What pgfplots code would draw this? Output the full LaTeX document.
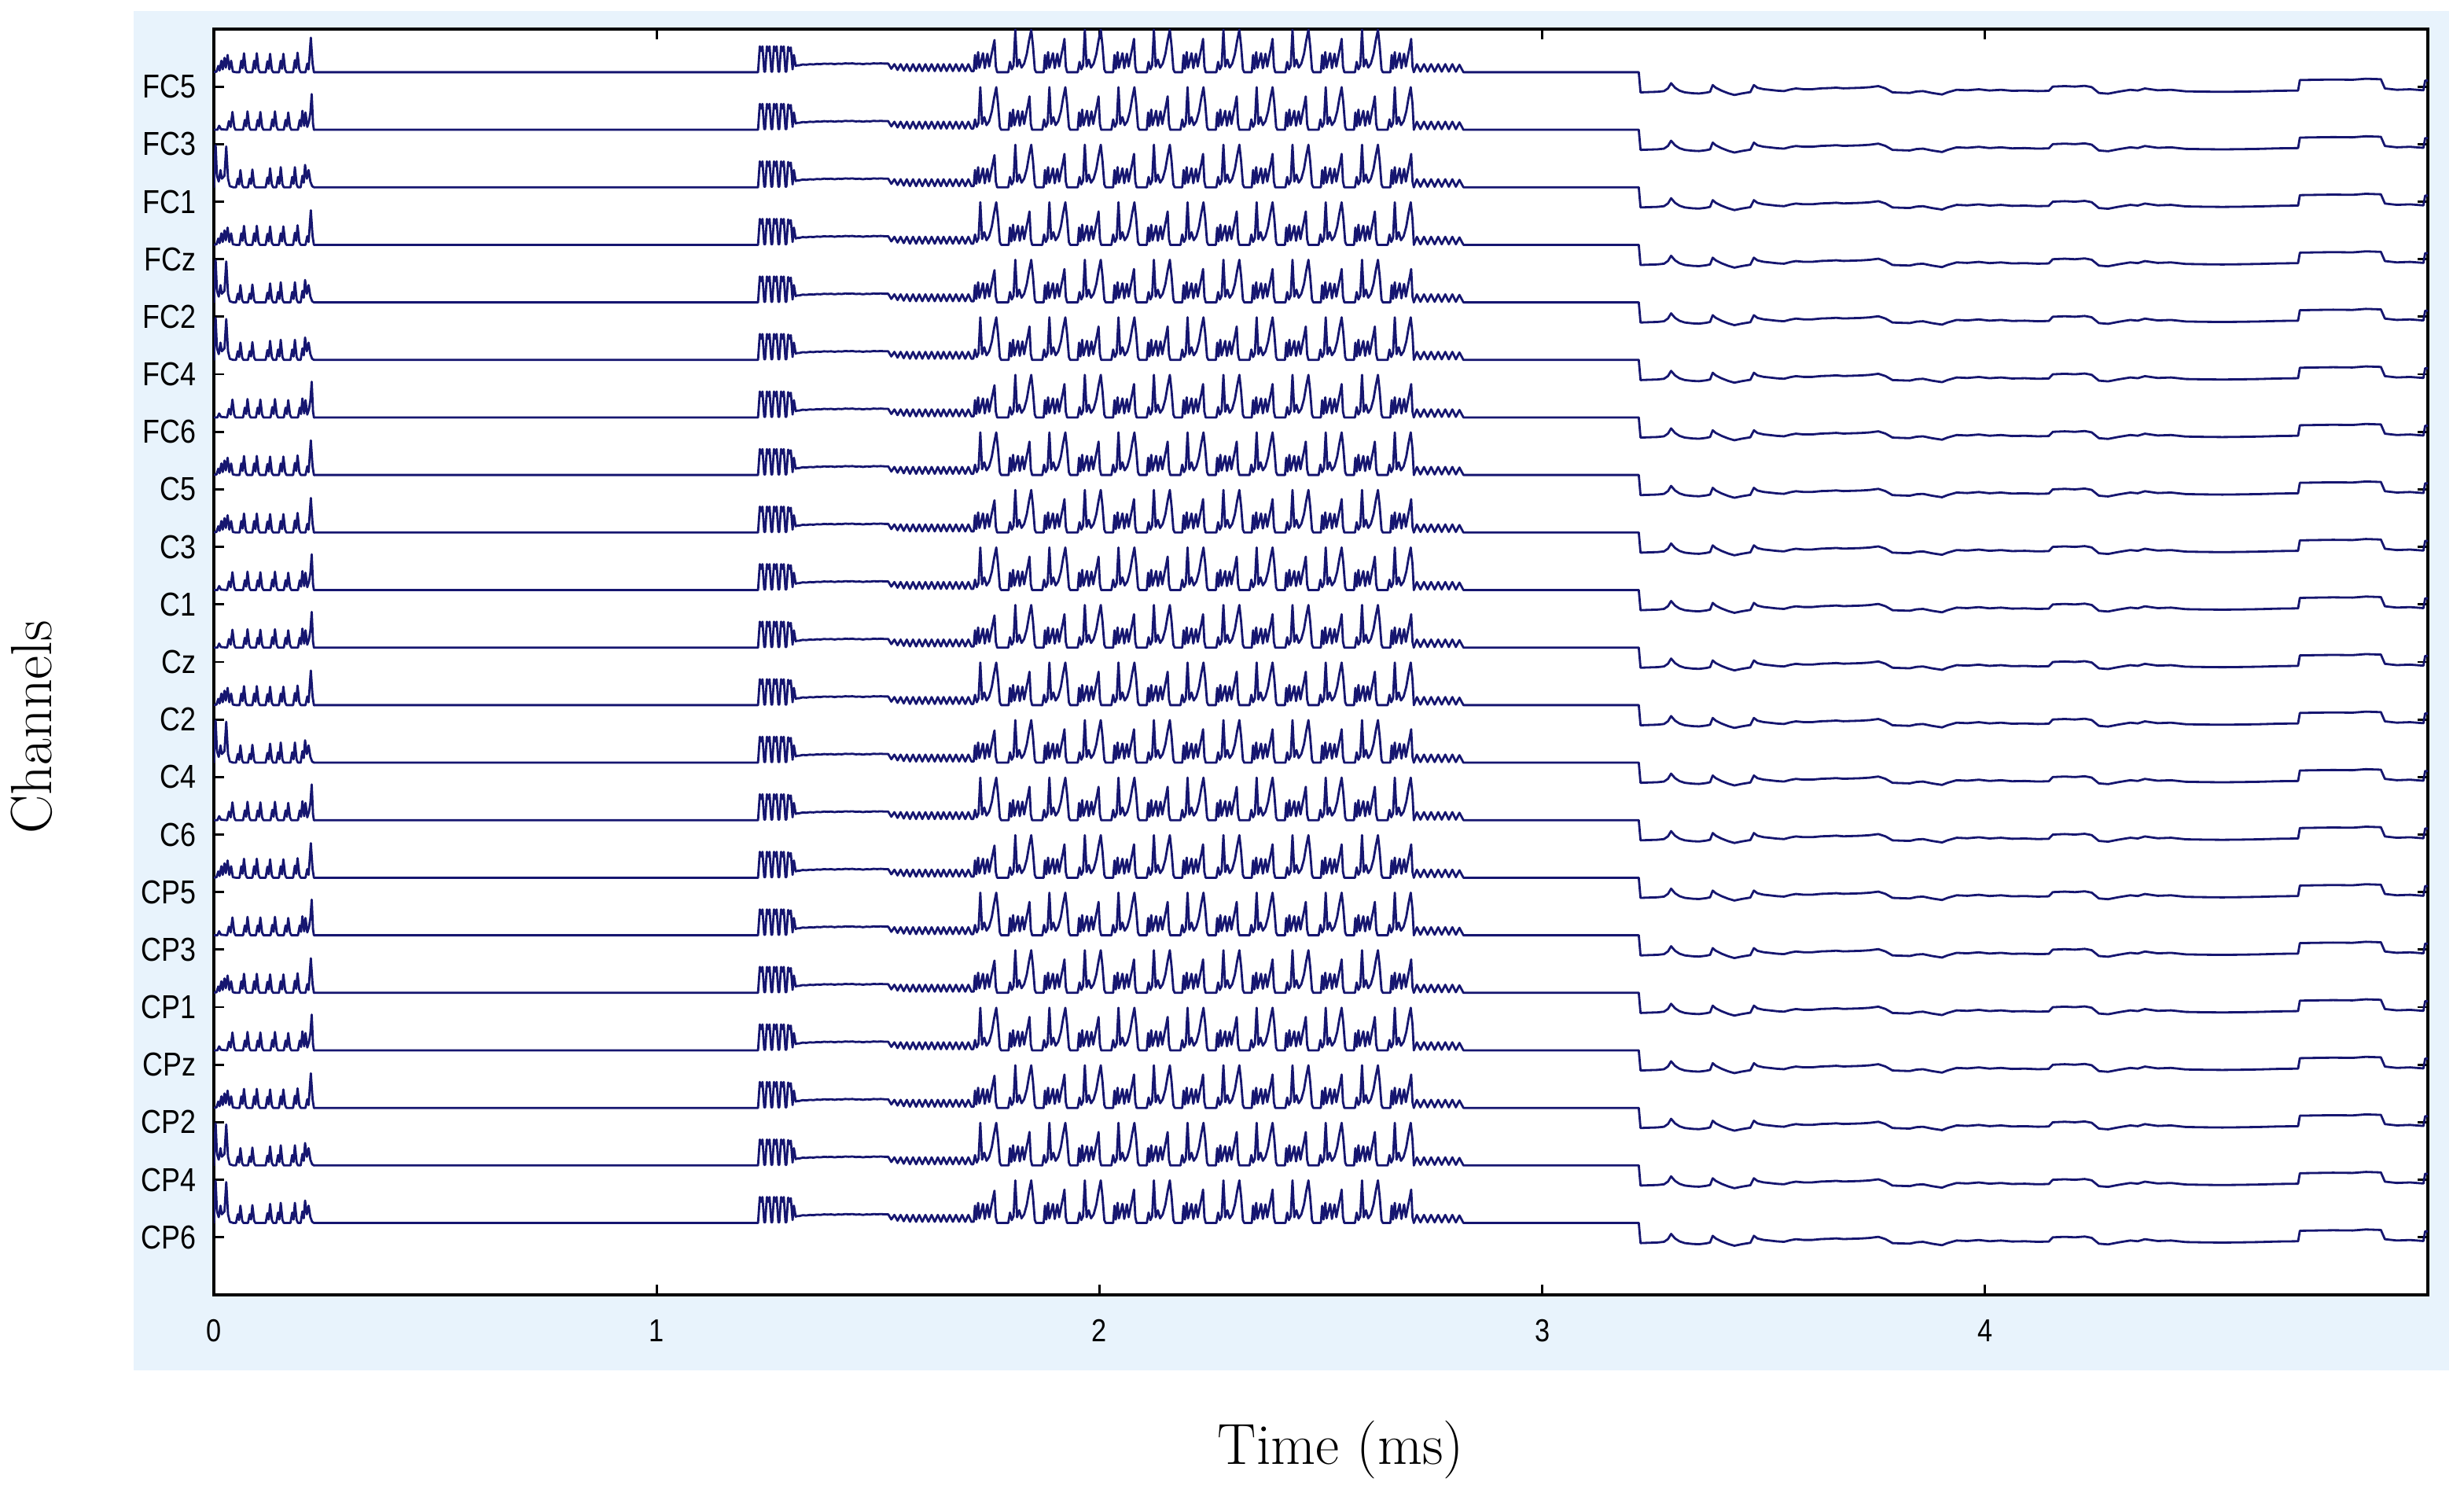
\documentclass[border=0pt]{standalone}
\usepackage{fontspec}
\usepackage{pgfplots}
\usepackage{pgfplotstable}
\pgfplotsset{compat=1.18}
\newfontfamily\tickfont[FakeStretch=0.85]{Liberation Sans}
\definecolor{bgblue}{RGB}{232,243,252}
\definecolor{tracecol}{RGB}{22,22,112}
\pgfplotsset{trace/.style={color=tracecol, line width=0.8pt, line join=round, line cap=round, no markers}}

% segment 0 - 0.226 ms, three variants
\pgfplotstableread[row sep=\\]{x y\\
0.000 0.25\\ 0.006 0.26\\ 0.010 0.36\\ 0.013 0.28\\ 0.017 0.45\\ 0.020 0.30\\ 0.024 0.50\\ 0.027 0.33\\ 0.031 0.55\\ 0.035 0.30\\ 0.039 0.45\\ 0.043 0.26\\ 0.050 0.25\\
0.058 0.25\\ 0.062 0.45\\ 0.065 0.32\\ 0.068 0.58\\ 0.072 0.30\\ 0.075 0.25\\
0.087 0.25\\ 0.091 0.45\\ 0.094 0.31\\ 0.097 0.58\\ 0.101 0.30\\ 0.104 0.25\\
0.117 0.25\\ 0.121 0.44\\ 0.124 0.31\\ 0.127 0.57\\ 0.131 0.29\\ 0.134 0.25\\
0.147 0.25\\ 0.151 0.45\\ 0.154 0.31\\ 0.157 0.57\\ 0.161 0.30\\ 0.164 0.25\\
0.179 0.25\\ 0.183 0.46\\ 0.186 0.32\\ 0.189 0.59\\ 0.193 0.30\\ 0.196 0.25\\
0.207 0.25\\ 0.211 0.40\\ 0.214 0.30\\ 0.219 0.85\\ 0.223 0.40\\ 0.226 0.25\\
}\Aa
\pgfplotstableread[row sep=\\]{x y\\
0.000 0.25\\ 0.008 0.25\\ 0.012 0.32\\ 0.016 0.26\\ 0.030 0.25\\
0.034 0.40\\ 0.038 0.30\\ 0.042 0.56\\ 0.046 0.30\\ 0.049 0.25\\
0.066 0.25\\ 0.070 0.42\\ 0.073 0.31\\ 0.076 0.57\\ 0.080 0.30\\ 0.083 0.25\\
0.095 0.25\\ 0.099 0.42\\ 0.102 0.31\\ 0.105 0.56\\ 0.109 0.30\\ 0.112 0.25\\
0.128 0.25\\ 0.132 0.43\\ 0.135 0.31\\ 0.138 0.57\\ 0.142 0.30\\ 0.145 0.25\\
0.158 0.25\\ 0.162 0.42\\ 0.165 0.31\\ 0.168 0.55\\ 0.172 0.30\\ 0.175 0.25\\
0.190 0.25\\ 0.194 0.42\\ 0.197 0.31\\ 0.200 0.58\\ 0.204 0.32\\ 0.207 0.55\\ 0.211 0.30\\ 0.215 0.40\\ 0.218 0.55\\ 0.221 0.87\\ 0.224 0.35\\ 0.226 0.25\\
}\Ab
\pgfplotstableread[row sep=\\]{x y\\
0.000 0.25\\ 0.002 0.70\\ 0.004 0.98\\ 0.007 0.45\\ 0.011 0.35\\ 0.015 0.55\\ 0.018 0.40\\ 0.024 0.45\\ 0.028 0.96\\ 0.032 0.40\\ 0.036 0.27\\ 0.044 0.25\\
0.050 0.25\\ 0.054 0.40\\ 0.057 0.30\\ 0.060 0.55\\ 0.064 0.29\\ 0.067 0.25\\
0.077 0.25\\ 0.081 0.40\\ 0.084 0.31\\ 0.087 0.56\\ 0.091 0.29\\ 0.094 0.25\\
0.117 0.25\\ 0.121 0.42\\ 0.124 0.31\\ 0.127 0.58\\ 0.131 0.30\\ 0.134 0.25\\
0.141 0.25\\ 0.145 0.43\\ 0.148 0.31\\ 0.151 0.60\\ 0.155 0.30\\ 0.158 0.25\\
0.173 0.25\\ 0.177 0.43\\ 0.180 0.31\\ 0.183 0.60\\ 0.187 0.30\\ 0.190 0.25\\
0.196 0.25\\ 0.200 0.45\\ 0.203 0.33\\ 0.206 0.64\\ 0.210 0.40\\ 0.214 0.55\\ 0.218 0.35\\ 0.222 0.27\\ 0.226 0.25\\
}\Ac

% 0.226 - 1.711 ms (common)
\pgfplotstableread[row sep=\\]{x y\\
0.226 0.25\\ 1.229 0.25\\
1.233 0.70\\ 1.236 0.62\\ 1.239 0.70\\ 1.243 0.26\\ 1.245 0.26\\
1.249 0.70\\ 1.252 0.62\\ 1.255 0.70\\ 1.259 0.26\\ 1.261 0.26\\
1.265 0.70\\ 1.268 0.62\\ 1.271 0.70\\ 1.275 0.26\\ 1.277 0.26\\
1.281 0.70\\ 1.284 0.62\\ 1.287 0.70\\ 1.291 0.26\\ 1.293 0.26\\
1.297 0.69\\ 1.300 0.62\\ 1.303 0.68\\ 1.307 0.30\\ 1.310 0.55\\ 1.314 0.36\\ 1.318 0.37\\
1.322 0.37\\ 1.330 0.385\\ 1.338 0.38\\ 1.346 0.39\\ 1.354 0.385\\ 1.362 0.395\\ 1.370 0.39\\ 1.378 0.40\\ 1.386 0.395\\ 1.394 0.40\\ 1.402 0.39\\ 1.410 0.40\\ 1.418 0.395\\ 1.426 0.405\\ 1.434 0.40\\ 1.442 0.405\\ 1.450 0.395\\ 1.458 0.40\\ 1.466 0.39\\ 1.474 0.40\\ 1.482 0.395\\ 1.490 0.405\\ 1.498 0.40\\ 1.506 0.405\\ 1.514 0.40\\ 1.523 0.40\\
1.530 0.31\\ 1.537 0.39\\ 1.544 0.29\\ 1.551 0.39\\ 1.558 0.28\\ 1.565 0.39\\ 1.572 0.27\\ 1.579 0.39\\ 1.586 0.27\\ 1.593 0.39\\ 1.600 0.27\\ 1.607 0.39\\ 1.614 0.27\\ 1.621 0.39\\ 1.628 0.27\\ 1.635 0.39\\ 1.642 0.27\\ 1.648 0.39\\ 1.655 0.27\\ 1.662 0.39\\ 1.669 0.27\\ 1.676 0.39\\ 1.683 0.27\\ 1.690 0.39\\ 1.697 0.27\\ 1.704 0.39\\ 1.711 0.27\\
}\Pre

% 1.711 - 2.710 ms, variant 1
\pgfplotstableread[row sep=\\]{x y\\
1.711 0.27\\ 1.716 0.27\\ 1.719 0.55\\ 1.722 0.31\\ 1.726 0.60\\ 1.729 0.33\\ 1.733 0.45\\ 1.737 0.58\\ 1.741 0.32\\ 1.747 0.57\\ 1.751 0.35\\ 1.756 0.55\\ 1.760 0.70\\ 1.763 0.81\\ 1.766 0.35\\ 1.769 0.25\\
1.794 0.25\\ 1.798 0.43\\ 1.802 0.30\\ 1.806 0.37\\ 1.810 0.99\\ 1.814 0.35\\ 1.819 0.47\\ 1.824 0.33\\ 1.830 0.40\\ 1.836 0.57\\ 1.841 0.80\\ 1.846 0.99\\ 1.850 0.70\\ 1.854 0.30\\ 1.857 0.25\\
1.874 0.25\\ 1.877 0.55\\ 1.880 0.31\\ 1.884 0.60\\ 1.887 0.33\\ 1.891 0.45\\ 1.895 0.58\\ 1.899 0.32\\ 1.905 0.57\\ 1.909 0.35\\ 1.914 0.55\\ 1.918 0.70\\ 1.921 0.83\\ 1.924 0.35\\ 1.927 0.25\\
1.951 0.25\\ 1.955 0.43\\ 1.959 0.30\\ 1.963 0.37\\ 1.967 0.99\\ 1.971 0.35\\ 1.976 0.47\\ 1.981 0.33\\ 1.987 0.40\\ 1.993 0.57\\ 1.998 0.80\\ 2.003 0.99\\ 2.007 0.70\\ 2.011 0.30\\ 2.014 0.25\\
2.031 0.25\\ 2.034 0.55\\ 2.037 0.31\\ 2.041 0.60\\ 2.044 0.33\\ 2.048 0.45\\ 2.052 0.58\\ 2.056 0.32\\ 2.062 0.57\\ 2.066 0.35\\ 2.071 0.55\\ 2.075 0.70\\ 2.078 0.83\\ 2.081 0.35\\ 2.084 0.25\\
2.107 0.25\\ 2.111 0.43\\ 2.115 0.30\\ 2.119 0.37\\ 2.123 0.99\\ 2.127 0.35\\ 2.132 0.47\\ 2.137 0.33\\ 2.143 0.40\\ 2.149 0.57\\ 2.154 0.80\\ 2.159 0.99\\ 2.163 0.70\\ 2.167 0.30\\ 2.170 0.25\\
2.187 0.25\\ 2.190 0.55\\ 2.193 0.31\\ 2.197 0.60\\ 2.200 0.33\\ 2.204 0.45\\ 2.208 0.58\\ 2.212 0.32\\ 2.218 0.57\\ 2.222 0.35\\ 2.227 0.55\\ 2.231 0.70\\ 2.234 0.83\\ 2.237 0.35\\ 2.240 0.25\\
2.264 0.25\\ 2.268 0.43\\ 2.272 0.30\\ 2.276 0.37\\ 2.280 0.99\\ 2.284 0.35\\ 2.289 0.47\\ 2.294 0.33\\ 2.300 0.40\\ 2.306 0.57\\ 2.311 0.80\\ 2.316 0.99\\ 2.320 0.70\\ 2.324 0.30\\ 2.327 0.25\\
2.344 0.25\\ 2.347 0.55\\ 2.350 0.31\\ 2.354 0.60\\ 2.357 0.33\\ 2.361 0.45\\ 2.365 0.58\\ 2.369 0.32\\ 2.375 0.57\\ 2.379 0.35\\ 2.384 0.55\\ 2.388 0.70\\ 2.391 0.83\\ 2.394 0.35\\ 2.397 0.25\\
2.420 0.25\\ 2.424 0.43\\ 2.428 0.30\\ 2.432 0.37\\ 2.436 0.99\\ 2.440 0.35\\ 2.445 0.47\\ 2.450 0.33\\ 2.456 0.40\\ 2.462 0.57\\ 2.467 0.80\\ 2.472 0.99\\ 2.476 0.70\\ 2.480 0.30\\ 2.483 0.25\\
2.500 0.25\\ 2.503 0.55\\ 2.506 0.31\\ 2.510 0.60\\ 2.513 0.33\\ 2.517 0.45\\ 2.521 0.58\\ 2.525 0.32\\ 2.531 0.57\\ 2.535 0.35\\ 2.540 0.55\\ 2.544 0.70\\ 2.547 0.83\\ 2.550 0.35\\ 2.553 0.25\\
2.577 0.25\\ 2.581 0.43\\ 2.585 0.30\\ 2.589 0.37\\ 2.593 0.99\\ 2.597 0.35\\ 2.602 0.47\\ 2.607 0.33\\ 2.613 0.40\\ 2.619 0.57\\ 2.624 0.80\\ 2.629 0.99\\ 2.633 0.70\\ 2.637 0.30\\ 2.640 0.25\\
2.657 0.25\\ 2.660 0.55\\ 2.663 0.31\\ 2.667 0.60\\ 2.670 0.33\\ 2.674 0.45\\ 2.678 0.58\\ 2.682 0.32\\ 2.688 0.57\\ 2.692 0.35\\ 2.697 0.55\\ 2.701 0.70\\ 2.704 0.83\\ 2.707 0.35\\ 2.710 0.25\\
}\Va

% 1.711 - 2.710 ms, variant 2
\pgfplotstableread[row sep=\\]{x y\\
1.711 0.27\\ 1.715 0.27\\ 1.719 0.43\\ 1.723 0.30\\ 1.727 0.37\\ 1.731 0.99\\ 1.735 0.35\\ 1.740 0.47\\ 1.745 0.33\\ 1.751 0.40\\ 1.757 0.57\\ 1.762 0.80\\ 1.767 0.99\\ 1.771 0.70\\ 1.775 0.30\\ 1.778 0.25\\
1.795 0.25\\ 1.798 0.55\\ 1.801 0.31\\ 1.805 0.60\\ 1.808 0.33\\ 1.812 0.45\\ 1.816 0.58\\ 1.820 0.32\\ 1.826 0.57\\ 1.830 0.35\\ 1.835 0.55\\ 1.839 0.70\\ 1.842 0.83\\ 1.845 0.35\\ 1.848 0.25\\
1.871 0.25\\ 1.875 0.43\\ 1.879 0.30\\ 1.883 0.37\\ 1.887 0.99\\ 1.891 0.35\\ 1.896 0.47\\ 1.901 0.33\\ 1.907 0.40\\ 1.913 0.57\\ 1.918 0.80\\ 1.923 0.99\\ 1.927 0.70\\ 1.931 0.30\\ 1.934 0.25\\
1.951 0.25\\ 1.954 0.55\\ 1.957 0.31\\ 1.961 0.60\\ 1.964 0.33\\ 1.968 0.45\\ 1.972 0.58\\ 1.976 0.32\\ 1.982 0.57\\ 1.986 0.35\\ 1.991 0.55\\ 1.995 0.70\\ 1.998 0.83\\ 2.001 0.35\\ 2.004 0.25\\
2.027 0.25\\ 2.031 0.43\\ 2.035 0.30\\ 2.039 0.37\\ 2.043 0.99\\ 2.047 0.35\\ 2.052 0.47\\ 2.057 0.33\\ 2.063 0.40\\ 2.069 0.57\\ 2.074 0.80\\ 2.079 0.99\\ 2.083 0.70\\ 2.087 0.30\\ 2.090 0.25\\
2.107 0.25\\ 2.110 0.55\\ 2.113 0.31\\ 2.117 0.60\\ 2.120 0.33\\ 2.124 0.45\\ 2.128 0.58\\ 2.132 0.32\\ 2.138 0.57\\ 2.142 0.35\\ 2.147 0.55\\ 2.151 0.70\\ 2.154 0.83\\ 2.157 0.35\\ 2.160 0.25\\
2.183 0.25\\ 2.187 0.43\\ 2.191 0.30\\ 2.195 0.37\\ 2.199 0.99\\ 2.203 0.35\\ 2.208 0.47\\ 2.213 0.33\\ 2.219 0.40\\ 2.225 0.57\\ 2.230 0.80\\ 2.235 0.99\\ 2.239 0.70\\ 2.243 0.30\\ 2.246 0.25\\
2.263 0.25\\ 2.266 0.55\\ 2.269 0.31\\ 2.273 0.60\\ 2.276 0.33\\ 2.280 0.45\\ 2.284 0.58\\ 2.288 0.32\\ 2.294 0.57\\ 2.298 0.35\\ 2.303 0.55\\ 2.307 0.70\\ 2.310 0.83\\ 2.313 0.35\\ 2.316 0.25\\
2.339 0.25\\ 2.343 0.43\\ 2.347 0.30\\ 2.351 0.37\\ 2.355 0.99\\ 2.359 0.35\\ 2.364 0.47\\ 2.369 0.33\\ 2.375 0.40\\ 2.381 0.57\\ 2.386 0.80\\ 2.391 0.99\\ 2.395 0.70\\ 2.399 0.30\\ 2.402 0.25\\
2.419 0.25\\ 2.422 0.55\\ 2.425 0.31\\ 2.429 0.60\\ 2.432 0.33\\ 2.436 0.45\\ 2.440 0.58\\ 2.444 0.32\\ 2.450 0.57\\ 2.454 0.35\\ 2.459 0.55\\ 2.463 0.70\\ 2.466 0.83\\ 2.469 0.35\\ 2.472 0.25\\
2.495 0.25\\ 2.499 0.43\\ 2.503 0.30\\ 2.507 0.37\\ 2.511 0.99\\ 2.515 0.35\\ 2.520 0.47\\ 2.525 0.33\\ 2.531 0.40\\ 2.537 0.57\\ 2.542 0.80\\ 2.547 0.99\\ 2.551 0.70\\ 2.555 0.30\\ 2.558 0.25\\
2.575 0.25\\ 2.578 0.55\\ 2.581 0.31\\ 2.585 0.60\\ 2.588 0.33\\ 2.592 0.45\\ 2.596 0.58\\ 2.600 0.32\\ 2.606 0.57\\ 2.610 0.35\\ 2.615 0.55\\ 2.619 0.70\\ 2.622 0.83\\ 2.625 0.35\\ 2.628 0.25\\
2.651 0.25\\ 2.655 0.43\\ 2.659 0.30\\ 2.663 0.37\\ 2.667 0.99\\ 2.671 0.35\\ 2.676 0.47\\ 2.681 0.33\\ 2.687 0.40\\ 2.693 0.57\\ 2.698 0.80\\ 2.703 0.99\\ 2.707 0.70\\ 2.710 0.25\\
}\Vb

% 2.710 - 5 ms (common)
\pgfplotstableread[row sep=\\]{x y\\
2.710 0.25\\ 2.717 0.39\\ 2.725 0.26\\ 2.733 0.39\\ 2.741 0.26\\ 2.749 0.39\\ 2.757 0.26\\ 2.765 0.39\\ 2.773 0.26\\ 2.781 0.39\\ 2.789 0.26\\ 2.797 0.39\\ 2.805 0.26\\ 2.813 0.38\\ 2.822 0.25\\
3.218 0.25\\ 3.222 -0.10\\ 3.240 -0.095\\ 3.260 -0.09\\ 3.275 -0.078\\ 3.284 -0.03\\ 3.291 0.06\\ 3.300 -0.02\\ 3.310 -0.07\\ 3.322 -0.10\\ 3.340 -0.115\\ 3.354 -0.12\\ 3.370 -0.105\\ 3.379 -0.09\\ 3.385 0.027\\ 3.392 -0.02\\ 3.405 -0.07\\ 3.420 -0.115\\ 3.434 -0.146\\ 3.450 -0.12\\ 3.470 -0.095\\ 3.478 0.027\\ 3.486 -0.02\\ 3.500 -0.045\\ 3.513 -0.055\\ 3.530 -0.07\\ 3.546 -0.078\\ 3.560 -0.05\\ 3.573 -0.032\\ 3.590 -0.045\\ 3.610 -0.045\\ 3.630 -0.03\\ 3.650 -0.025\\ 3.664 -0.018\\ 3.680 -0.03\\ 3.700 -0.025\\ 3.720 -0.02\\ 3.740 -0.01\\ 3.759 0.009\\ 3.775 -0.03\\ 3.791 -0.10\\ 3.810 -0.105\\ 3.830 -0.11\\ 3.845 -0.085\\ 3.860 -0.078\\ 3.880 -0.11\\ 3.903 -0.137\\ 3.915 -0.10\\ 3.936 -0.055\\ 3.960 -0.064\\ 3.986 -0.046\\ 4.010 -0.068\\ 4.036 -0.055\\ 4.061 -0.073\\ 4.090 -0.068\\ 4.119 -0.078\\ 4.144 -0.073\\ 4.153 0.0\\ 4.180 0.009\\ 4.203 0.0\\ 4.225 0.014\\ 4.241 -0.009\\ 4.257 -0.11\\ 4.278 -0.123\\ 4.300 -0.09\\ 4.328 -0.055\\ 4.345 -0.068\\ 4.361 -0.032\\ 4.390 -0.064\\ 4.420 -0.055\\ 4.453 -0.082\\ 4.490 -0.087\\ 4.536 -0.091\\ 4.580 -0.087\\ 4.619 -0.082\\ 4.660 -0.073\\ 4.707 -0.068\\ 4.711 0.114\\ 4.750 0.119\\ 4.786 0.123\\ 4.830 0.119\\ 4.860 0.137\\ 4.894 0.128\\ 4.903 -0.032\\ 4.930 -0.055\\ 4.960 -0.046\\ 4.990 -0.064\\ 4.994 0.105\\ 5.000 0.105\\
}\Post

\newcommand{\chan}[3]{%
\addplot[trace] table[x=x, y expr=\thisrow{y}+#1] {#2};
\addplot[trace] table[x=x, y expr=\thisrow{y}+#1] {\Pre};
\addplot[trace] table[x=x, y expr=\thisrow{y}+#1] {#3};
\addplot[trace] table[x=x, y expr=\thisrow{y}+#1] {\Post};
}

\begin{document}
\begin{tikzpicture}
\useasboundingbox (0,0) rectangle (31.34cm,18.99cm);
\fill[bgblue] (1.70cm,1.56cm) rectangle (31.15cm,18.85cm);
\begin{axis}[
  at={(2.72cm,2.52cm)}, anchor=south west,
  scale only axis, width=28.16cm, height=16.10cm,
  xmin=0, xmax=5, ymin=0, ymax=22,
  axis background/.style={fill=white},
  axis line style={line width=0.9pt, black},
  xtick={0,1,2,3,4},
  ytick={1,...,21},
  yticklabels={CP6,CP4,CP2,CPz,CP1,CP3,CP5,C6,C4,C2,Cz,C1,C3,C5,FC6,FC4,FC2,FCz,FC1,FC3,FC5},
  tick align=inside, tick pos=both,
  major tick length=0.13cm,
  tick style={line width=0.8pt, black},
  /pgf/number format/assume math mode=true,
  xticklabel style={font=\tickfont\fontsize{11.5}{13}\selectfont, inner sep=0pt, yshift=-3.1mm},
  yticklabel style={font=\tickfont\fontsize{12}{14}\selectfont, inner sep=0pt, xshift=-2.2mm},
  xlabel={Time (ms)}, ylabel={Channels},
  every axis x label/.style={at={(axis description cs:0.509,-0.134)}, anchor=base, font=\fontsize{21}{25}\selectfont},
  every axis y label/.style={at={(axis description cs:-0.0735,0.4485)}, rotate=90, anchor=base, font=\fontsize{21}{25}\selectfont},
]
\chan{21}{\Aa}{\Va}
\chan{20}{\Ab}{\Vb}
\chan{19}{\Ac}{\Va}
\chan{18}{\Aa}{\Vb}
\chan{17}{\Ac}{\Va}
\chan{16}{\Ac}{\Vb}
\chan{15}{\Ab}{\Va}
\chan{14}{\Aa}{\Vb}
\chan{13}{\Aa}{\Va}
\chan{12}{\Ab}{\Vb}
\chan{11}{\Ab}{\Va}
\chan{10}{\Aa}{\Vb}
\chan{9}{\Ac}{\Va}
\chan{8}{\Ab}{\Vb}
\chan{7}{\Aa}{\Va}
\chan{6}{\Ab}{\Vb}
\chan{5}{\Aa}{\Va}
\chan{4}{\Ab}{\Vb}
\chan{3}{\Aa}{\Va}
\chan{2}{\Ac}{\Vb}
\chan{1}{\Ac}{\Va}
\end{axis}
\end{tikzpicture}
\end{document}
